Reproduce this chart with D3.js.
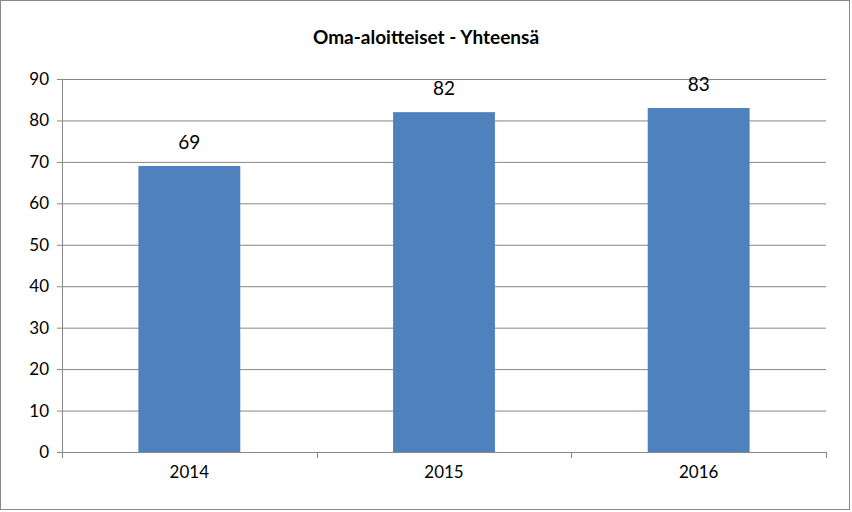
<!DOCTYPE html>
<html><head><meta charset="utf-8">
<script src="https://cdn.jsdelivr.net/npm/d3@7"></script>
<style>body{margin:0;background:#fff}svg{display:block;font-family:Lato,"Open Sans",sans-serif}</style>
</head><body>
<svg id="viz" width="852" height="512"></svg>
<script>
// === DATA ===
const years = ["2014", "2015", "2016"];
const values = [69, 82, 83];
const yTicks = [0, 10, 20, 30, 40, 50, 60, 70, 80, 90];
const title = "Oma-aloitteiset - Yhteensä";

const svg = d3.select("#viz");
const margin = {top: 79, right: 26, bottom: 60, left: 62};
const plotWidth = 852 - margin.left - margin.right;
const plotHeight = 512 - margin.top - margin.bottom;

// frame
svg.append("rect").attr("x", 0.5).attr("y", 0.5).attr("width", 849).attr("height", 509)
  .attr("fill", "#fff").attr("stroke", "#888").attr("stroke-width", 1);

svg.append("text").attr("x", 426).attr("y", 44).attr("text-anchor", "middle")
  .style("font-size", "19px").style("font-weight", "bold").text(title);

const g = svg.append("g").attr("transform", `translate(${margin.left},${margin.top})`);

const x = d3.scaleBand().domain(years).range([0, plotWidth]).paddingInner(0.6).paddingOuter(0.3);
const y = d3.scaleLinear().domain([0, 90]).range([plotHeight, 0]);

// grid
g.selectAll(".grid").data(yTicks).enter().append("line")
  .attr("x1", 0).attr("x2", plotWidth)
  .attr("y1", d => y(d) + 0.5).attr("y2", d => y(d) + 0.5)
  .attr("stroke", "#868686");

// y axis
const ya = g.append("g").call(d3.axisLeft(y).tickValues(yTicks).tickSize(5).tickPadding(8));
ya.select(".domain").attr("stroke", "#868686");
ya.selectAll("line").attr("stroke", "#868686");
ya.selectAll("text").style("font-size", "17px").attr("fill", "#000").attr("font-family", "Lato,'Open Sans',sans-serif");

// x axis with boundary ticks
const xa = g.append("g").attr("transform", `translate(0,${plotHeight})`)
  .call(d3.axisBottom(x).tickSize(0).tickPadding(14));
xa.select(".domain").attr("stroke", "#868686");
xa.selectAll("text").style("font-size", "17px").attr("fill", "#000").attr("font-family", "Lato,'Open Sans',sans-serif");
const step = x.step();
xa.selectAll(".bound").data(d3.range(years.length + 1)).enter().append("line")
  .attr("x1", i => Math.round(i * plotWidth / years.length) + 0.5)
  .attr("x2", i => Math.round(i * plotWidth / years.length) + 0.5)
  .attr("y1", 0).attr("y2", 6).attr("stroke", "#868686");

// bars
g.selectAll(".bar").data(values).enter().append("rect")
  .attr("x", (d, i) => x(years[i]))
  .attr("y", d => y(d))
  .attr("width", x.bandwidth())
  .attr("height", d => plotHeight - y(d))
  .attr("fill", "#4f81bd");

g.selectAll(".lbl").data(values).enter().append("text")
  .attr("x", (d, i) => x(years[i]) + x.bandwidth() / 2)
  .attr("y", d => y(d) - 17)
  .attr("text-anchor", "middle")
  .style("font-size", "19px")
  .text(d => d);
</script>
</body></html>
